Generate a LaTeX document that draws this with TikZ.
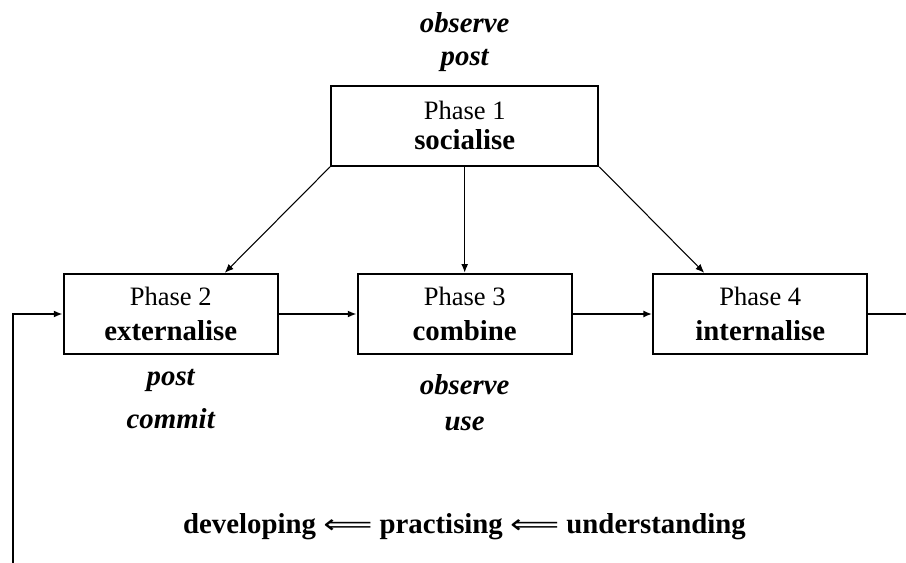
\documentclass[tikz,border=0pt]{standalone}
\usepackage{fontspec}
\setmainfont{Liberation Serif}
\newfontfamily\arrowfont[FakeStretch=1.3]{DejaVu Sans}
\usepackage{tikz}
\usetikzlibrary{calc,positioning,arrows.meta}

\tikzset{
  phase/.style={draw,line width=1.3pt,minimum width=4.28cm,minimum height=1.6cm,
    align=center,font=\fontsize{15.1}{19.9}\selectfont},
  acts/.style={align=center,inner sep=0pt,font=\bfseries\itshape\fontsize{16.4}{#1}\selectfont},
}
\newcommand{\phname}[1]{{\bfseries\fontsize{16.4}{19.9}\selectfont #1}}
\newcommand{\lefto}{{\arrowfont\mdseries\fontsize{15}{15}\selectfont ⟸}}

\begin{document}
\begin{tikzpicture}[>={Latex[length=5pt,width=4pt]}]
\useasboundingbox (0,0) rectangle (18.12,-11.26);
% phases
\node[phase] (p3) at (9.294,-6.28) {Phase 3\\\phname{combine}};
\node[phase,left=1.554cm of p3] (p2) {Phase 2\\\phname{externalise}};
\node[phase,right=1.586cm of p3] (p4) {Phase 4\\\phname{internalise}};
\node[phase,minimum width=5.34cm,font=\fontsize{15.1}{14.6}\selectfont,above=2.12cm of p3] (p1) {Phase 1\\[2.5pt]\phname{socialise}};
% activities
\node[acts=18.8pt,above=0.26cm of p1] (a1) {observe\\post};
\node[acts=24.5pt,below=0.28cm of p2] (a2) {post\\commit};
\node[acts=20.5pt,below=0.38cm of p3] (a3) {observe\\use};
% flow
\draw[->,line width=0.6pt] (p1.south west) -- ($(p2.north)+(1.08,0)$);
\draw[->,line width=0.9pt] (p1) -- (p3);
\draw[->,line width=0.6pt] (p1.south east) -- ($(p4.north)+(-1.12,0)$);
\draw[->,line width=1pt] (p2) -- (p3);
\draw[->,line width=1pt] (p3) -- (p4);
\coordinate (exit) at (18.12,-6.28);
\draw[line width=1pt] (p4) -- (exit);
\coordinate (back) at (0.254,-11.26);
\draw[->,line width=1.3pt] (back) |- (p2);
% cycle
\node[font=\bfseries\fontsize{16.4}{19.9}\selectfont,anchor=base] (cyc) at (9.29,-10.66)
  {developing \lefto{} practising \lefto{} understanding};
\end{tikzpicture}
\end{document}
